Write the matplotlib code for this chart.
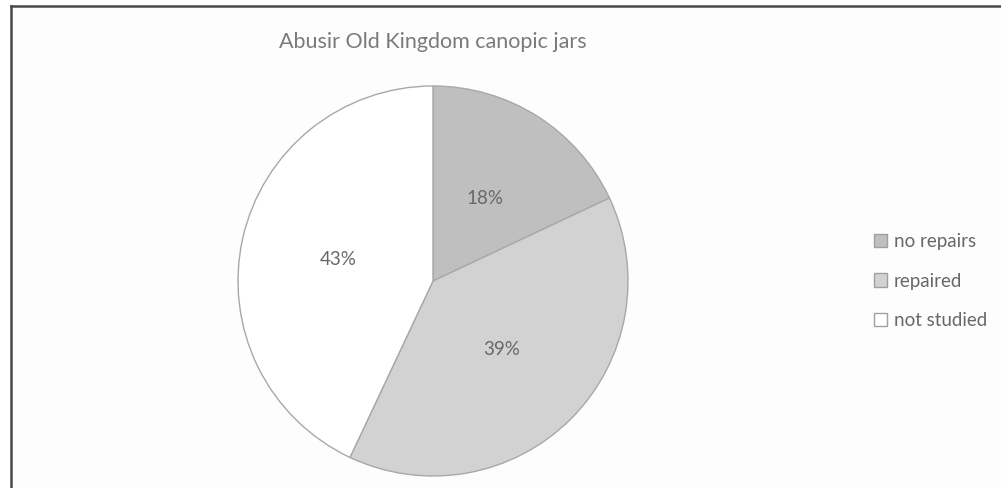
import matplotlib
matplotlib.use("Agg")
import matplotlib.pyplot as plt
from matplotlib.lines import Line2D
from matplotlib.patches import Patch

categories = ["no repairs", "repaired", "not studied"]
values = [18, 39, 43]
colors = ["#bfbfc0", "#d2d2d3", "#ffffff"]
title = "Abusir Old Kingdom canopic jars"

W, H = 1001, 488
fig = plt.figure(figsize=(W / 100, H / 100), dpi=100)
fig.patch.set_facecolor("white")

ax = fig.add_axes([0, 0, 1, 1])
ax.set_facecolor("none")

# frame: inner background + left/top border (cropped on right/bottom)
ax.fill_between([11, W + 5], -5, H - 6, color="#fdfdfd", zorder=0)
ax.add_line(Line2D([11, 11], [-5, H - 6], color="#4a4a4a", linewidth=1.8, zorder=1))
ax.add_line(Line2D([11, W + 5], [H - 6, H - 6], color="#4a4a4a", linewidth=1.8, zorder=1))

cx, cy, r = 433, H - 281, 195
wedges, texts, autotexts = ax.pie(
    values, colors=colors, startangle=90, counterclock=False,
    center=(cx, cy), radius=r, autopct="%1.0f%%", pctdistance=0.5,
    wedgeprops=dict(edgecolor="#a8a8a8", linewidth=1.0, zorder=2),
    textprops=dict(color="#686868", fontsize=13.5, family="Lato"))
for t in autotexts:
    t.set_zorder(3)
ax.set_xlim(0, W)
ax.set_ylim(0, H)
ax.set_aspect("equal")
ax.axis("off")

fig.text(433 / W, 1 - 42 / H, title, ha="center", va="center",
         fontsize=15.5, color="#7a7a7a", family="Lato")

handles = [Patch(facecolor=c, edgecolor="#a0a0a0", linewidth=1.0) for c in colors]
leg = fig.legend(handles, categories, loc="center left",
                 bbox_to_anchor=(857 / W, 1 - 281 / H), frameon=False,
                 prop=dict(family="Lato", size=13.5), labelcolor="#686868",
                 handlelength=0.7, handleheight=0.7, handletextpad=0.35,
                 labelspacing=1.2)

fig.savefig("out.png", dpi=100, facecolor=fig.get_facecolor())
